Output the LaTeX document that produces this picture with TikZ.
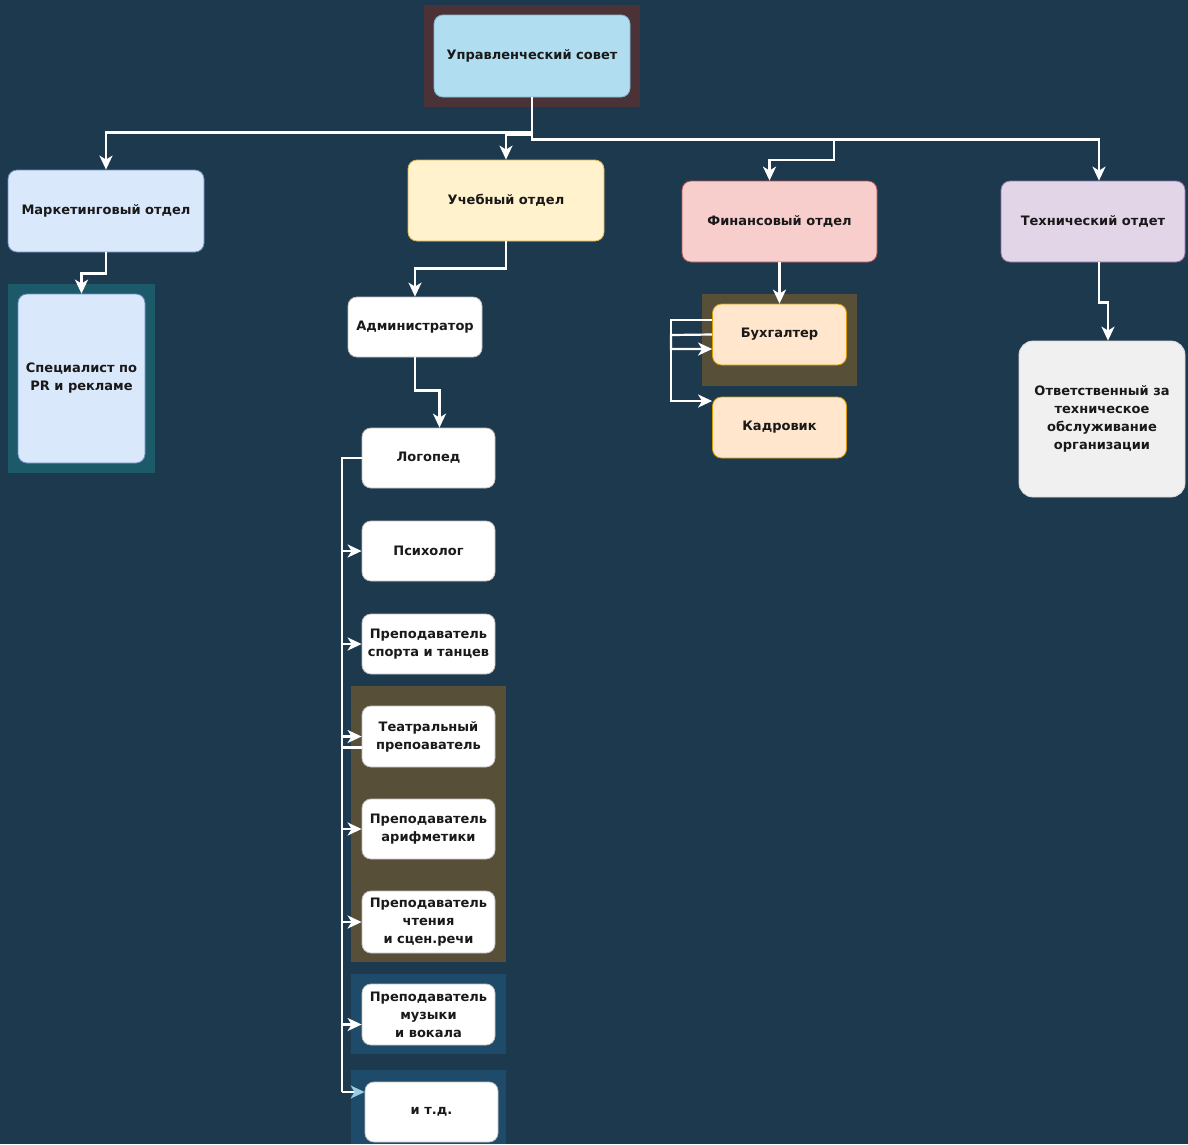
\documentclass[tikz,border=0pt]{standalone}
\usepackage{fontspec}
\setmainfont{DejaVu Sans}
\usepackage{tikz}
\usetikzlibrary{calc,arrows.meta}
\definecolor{bgnavy}{HTML}{1D394E}
\definecolor{bgbrown}{HTML}{574F37}
\definecolor{bgplum}{HTML}{4A3236}
\definecolor{bgteal}{HTML}{1D5A69}
\definecolor{bgblue}{HTML}{1D4B69}
\definecolor{sovetfill}{HTML}{B1DDF0}
\definecolor{sovetline}{HTML}{7FB8D4}
\definecolor{bluefill}{HTML}{DAE8FC}
\definecolor{blueline}{HTML}{6C8EBF}
\definecolor{yellowfill}{HTML}{FFF2CC}
\definecolor{yellowline}{HTML}{D6B656}
\definecolor{redfill}{HTML}{F8CECC}
\definecolor{redline}{HTML}{B85450}
\definecolor{orangefill}{HTML}{FFE6CC}
\definecolor{orangeline}{HTML}{D79B00}
\definecolor{violetfill}{HTML}{E1D5E7}
\definecolor{violetline}{HTML}{9673A6}
\definecolor{greyfill}{HTML}{F0F0F0}
\definecolor{arrowblue}{HTML}{9CCBE4}

\begin{document}
\begin{tikzpicture}[x=1pt,y=-1pt,
    box/.style={draw, rounded corners=9pt, line width=0.8pt, align=center,
        inner sep=2pt, text=black!90,
        font=\bfseries\fontsize{13}{18}\selectfont},
    dept/.style={box, minimum width=196pt, minimum height=82pt},
    staff/.style={box, fill=white, draw=black!25, minimum width=133pt, minimum height=60pt},
    link/.style={draw=white, line width=2.2pt, -{Stealth[length=14pt,width=13pt,inset=4pt]}},
    wire/.style={draw=white, line width=2.2pt}]
    % Canvas in pixels of the original: 1188 x 1144, y grows downwards.
    % Bus for the teachers at x = 342, bus for the accounting at x = 671.

    \fill[bgnavy] (0,0) rectangle (1188,1144);
    \useasboundingbox (0,0) rectangle (1188,1144);

    % group backgrounds
    \fill[bgplum] (424,5) rectangle (640,107);
    \fill[bgteal] (8,284) rectangle (155,473);
    \fill[bgbrown] (351,686) rectangle (506,962);
    \fill[bgblue] (351,974) rectangle (506,1054);
    \fill[bgblue] (351,1070) rectangle (506,1144);
    \fill[bgbrown] (702,294) rectangle (857,386);

    % top
    \node[dept, fill=sovetfill, draw=sovetline] (sovet) at (532,56) {Управленческий совет};

    % departments
    \node[dept, fill=bluefill, draw=blueline] (market) at (106,211) {Маркетинговый отдел};
    \node[dept, fill=yellowfill, draw=yellowline, minimum height=81pt] (ucheb) at (506,200.5) {Учебный отдел};
    \node[dept, fill=redfill, draw=redline, minimum width=195pt, minimum height=81pt] (finance) at (779.5,221.5) {Финансовый отдел};
    \node[dept, fill=violetfill, draw=violetline, minimum width=184pt, minimum height=81pt] (tech) at (1093,221.5) {Технический отдет};

    % marketing
    \node[box, fill=bluefill, draw=blueline, minimum width=127pt, minimum height=169pt] (spec) at (81.5,378.5) {Специалист по\\PR и рекламе};

    % study
    \node[staff, minimum width=134pt] (admin) at (415,327) {Администратор};
    \node[staff] (logoped) at (428.5,458) {Логопед};
    \node[staff] (psych) at (428.5,551) {Психолог};
    \node[staff] (sport) at (428.5,644) {Преподаватель\\спорта и танцев};
    \node[staff, minimum height=61pt] (teatr) at (428.5,736.5) {Театральный\\препоаватель};
    \node[staff] (arifm) at (428.5,829) {Преподаватель\\арифметики};
    \node[staff, minimum height=62pt] (chten) at (428.5,922) {Преподаватель\\чтения\\и сцен.речи};
    \node[staff, minimum height=61pt] (muzyk) at (428.5,1014.5) {Преподаватель\\музыки\\и вокала};
    \node[staff] (etc) at (431.5,1112) {и т.д.};

    % finance
    \node[box, fill=orangefill, draw=orangeline, minimum width=134pt, minimum height=61pt] (buh) at (779.5,334.5) {Бухгалтер};
    \node[box, fill=orangefill, draw=orangeline, minimum width=134pt, minimum height=61pt] (kadr) at (779.5,427.5) {Кадровик};

    % technical
    \node[box, fill=greyfill, draw=black!15, rounded corners=14pt, minimum width=166pt, minimum height=156pt] (otv) at (1102,419) {Ответственный за\\техническое\\обслуживание\\организации};

    % from the council
    \coordinate (fbend) at (834,160);
    \draw[link] (sovet.south) -- ++(0,35) -| (market.north);
    \draw[link] (sovet.south) -- ++(0,37) -| (ucheb.north);
    \draw[link] (sovet.south) -- ++(0,42) -| (fbend) -| ([xshift=-10pt]finance.north);
    \draw[link] (sovet.south) -- ++(0,42) -| ([xshift=6pt]tech.north);

    % departments down
    \draw[link] (market.south) -- ++(0,21) -| (spec.north);
    \draw[link] (ucheb.south) -- ++(0,27) -| (admin.north);
    \draw[link] (admin.south) -- ++(0,33) -| ([xshift=11pt]logoped.north);
    \draw[link] (finance.south) -- (buh.north);
    \draw[link] ([xshift=6pt]tech.south) -- ++(0,40) -| ([xshift=6pt]otv.north);

    % teachers bus
    \coordinate (bus) at (342,0);
    \draw[wire] (logoped.west) -| ([yshift=20pt]bus |- etc.west);
    \draw[link, -{Stealth[length=14pt,width=13pt,inset=4pt,color=arrowblue]}] ([yshift=20pt]bus |- etc.west) -- ([yshift=20pt]etc.west);
    \foreach \n in {psych,sport,teatr,arifm,chten}
        \draw[link] (bus |- \n.west) -- (\n.west);
    \draw[link] ([yshift=-10pt]bus |- muzyk.west) -- ([yshift=-10pt]muzyk.west);
    \draw[wire] ([yshift=-11pt]teatr.west) -- ([yshift=-11pt]bus |- teatr.west);

    % accounting loops
    \coordinate (b1) at (671,320);
    \coordinate (b2) at (671,335);
    \coordinate (b3) at (671,349);
    \coordinate (b4) at (671,401);
    \draw[link] ([yshift=14.5pt]buh.west) -- (b1) -- (b4) -- (b4 -| kadr.west);
    \draw[link] (buh.west) -- (b2) -- (b3) -- (b3 -| buh.west);

\end{tikzpicture}
\end{document}
